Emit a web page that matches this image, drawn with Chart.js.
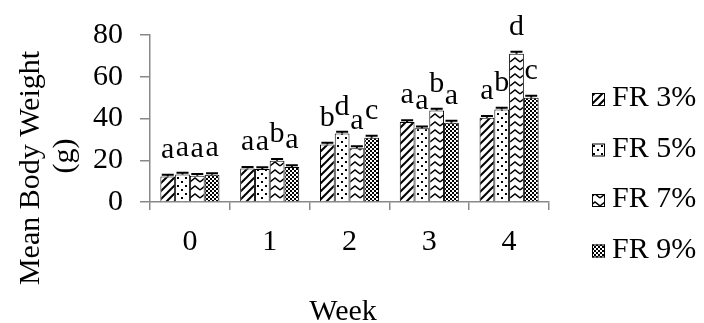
<!DOCTYPE html>
<html>
<head>
<meta charset="utf-8">
<script src="https://cdn.jsdelivr.net/npm/chart.js@4.4.1/dist/chart.umd.min.js"></script>
<style>
    html, body { margin: 0; padding: 0; background: #fff; }
    #wrap { width: 704px; height: 323px; position: relative; }
</style>
</head>
<body>
<div id="wrap"><canvas id="weightChart" width="704" height="323"></canvas></div>
<script>
const weeks = ['0', '1', '2', '3', '4'];
const seriesNames = ['FR 3%', 'FR 5%', 'FR 7%', 'FR 9%'];
const fr3 = [12.2, 16.0, 27.5, 38.3, 40.3];
const fr5 = [13.2, 15.8, 32.8, 35.3, 44.3];
const fr7 = [12.6, 19.8, 25.8, 43.8, 71.0];
const fr9 = [13.0, 16.8, 30.8, 38.0, 50.0];
const fr3Err = [0.8, 0.8, 0.9, 0.9, 0.9];
const fr5Err = [0.8, 0.8, 0.9, 0.9, 0.9];
const fr7Err = [0.8, 0.8, 0.9, 0.9, 1.0];
const fr9Err = [0.8, 0.8, 0.9, 0.9, 0.9];
const fr3Letters = ['a', 'a', 'b', 'a', 'a'];
const fr5Letters = ['a', 'a', 'd', 'a', 'b'];
const fr7Letters = ['a', 'b', 'a', 'b', 'd'];
const fr9Letters = ['a', 'a', 'c', 'a', 'c'];
const yTicks = [0, 20, 40, 60, 80];

const serif = "'Liberation Serif', 'Times New Roman', serif";
const fontPx = 30;

// small tile patterns like the excel fills
const makePattern = (w, h, draw) => {
    const c = document.createElement('canvas');
    c.width = w;
    c.height = h;
    const g = c.getContext('2d');
    g.fillStyle = '#fff';
    g.fillRect(0, 0, w, h);
    draw(g);
    return g.createPattern(c, 'repeat');
};

const stripePattern = makePattern(8, 8, g => {
    g.strokeStyle = '#000';
    g.lineWidth = 2;
    g.beginPath();
    g.moveTo(-2, 10); g.lineTo(10, -2);
    g.moveTo(-6, 6); g.lineTo(6, -6);
    g.moveTo(2, 14); g.lineTo(14, 2);
    g.stroke();
});

const dotPattern = makePattern(8, 8, g => {
    g.fillStyle = '#000';
    g.fillRect(1, 1, 2, 2);
    g.fillRect(5, 5, 2, 2);
});

const wavePattern = makePattern(10, 8, g => {
    g.strokeStyle = '#000';
    g.lineWidth = 1.6;
    g.beginPath();
    g.moveTo(0, 6); g.lineTo(5, 2); g.lineTo(10, 6);
    g.stroke();
});

const checkPattern = makePattern(4, 4, g => {
    g.fillStyle = '#000';
    g.fillRect(0, 0, 2, 2);
    g.fillRect(2, 2, 2, 2);
});

const errorSets = [fr3Err, fr5Err, fr7Err, fr9Err];
const letterSets = [fr3Letters, fr5Letters, fr7Letters, fr9Letters];

const extrasPlugin = {
    id: 'extras',
    afterDatasetsDraw(chart) {
        const ctx = chart.ctx;
        const y = chart.scales.y;
        ctx.save();
        chart.data.datasets.forEach((ds, i) => {
            const meta = chart.getDatasetMeta(i);
            meta.data.forEach((bar, j) => {
                const v = ds.data[j];
                const top = y.getPixelForValue(v + errorSets[i][j]);
                const base = y.getPixelForValue(v);
                ctx.strokeStyle = '#000';
                ctx.lineWidth = 2;
                ctx.beginPath();
                ctx.moveTo(bar.x, base);
                ctx.lineTo(bar.x, top);
                ctx.moveTo(bar.x - 6, top);
                ctx.lineTo(bar.x + 6, top);
                ctx.stroke();
                ctx.fillStyle = '#000';
                ctx.font = fontPx + 'px ' + serif;
                ctx.textAlign = 'center';
                ctx.textBaseline = 'alphabetic';
                ctx.fillText(letterSets[i][j], bar.x, top - 17);
            });
        });
        ctx.restore();
    },
    afterDraw(chart) {
        const ctx = chart.ctx;
        ctx.save();
        ctx.fillStyle = '#000';
        ctx.font = fontPx + 'px ' + serif;
        // x title
        ctx.textAlign = 'center';
        ctx.textBaseline = 'alphabetic';
        ctx.fillText('Week', 343, 320);
        // y title, two lines
        ctx.save();
        ctx.translate(39, 168);
        ctx.rotate(-Math.PI / 2);
        ctx.fillText('Mean Body Weight', 0, 0);
        ctx.restore();
        ctx.save();
        ctx.translate(73, 156);
        ctx.rotate(-Math.PI / 2);
        ctx.fillText('(g)', 0, 0);
        ctx.restore();
        // legend
        chart.data.datasets.forEach((ds, i) => {
            const by = 106 + i * 50.5;
            ctx.fillStyle = ds.backgroundColor;
            ctx.fillRect(592, by - 13, 13, 13);
            ctx.strokeStyle = '#000';
            ctx.lineWidth = 1;
            ctx.strokeRect(592.5, by - 12.5, 12, 12);
            ctx.fillStyle = '#000';
            ctx.textAlign = 'left';
            ctx.fillText(ds.label, 612, by);
        });
        ctx.restore();
    }
};

const patterns = [stripePattern, dotPattern, wavePattern, checkPattern];
const values = [fr3, fr5, fr7, fr9];

new Chart(document.getElementById('weightChart').getContext('2d'), {
    type: 'bar',
    data: {
        labels: weeks,
        datasets: seriesNames.map((name, i) => ({
            label: name,
            data: values[i],
            backgroundColor: patterns[i],
            borderColor: '#000',
            borderWidth: 1,
            categoryPercentage: 0.74,
            barPercentage: 1.0
        }))
    },
    options: {
        responsive: false,
        animation: false,
        events: [],
        layout: {
            padding: { left: 0, right: 155, top: 33, bottom: 0 }
        },
        plugins: {
            legend: { display: false },
            tooltip: { enabled: false }
        },
        scales: {
            x: {
                grid: {
                    display: true,
                    drawOnChartArea: false,
                    drawTicks: true,
                    tickLength: 8,
                    color: '#888',
                    lineWidth: 1.5
                },
                border: { color: '#888', width: 1.5 },
                ticks: {
                    color: '#000',
                    font: { family: serif, size: fontPx },
                    padding: 14
                },
                afterFit: scale => { scale.height = 121; }
            },
            y: {
                min: 0,
                max: 80,
                afterBuildTicks: scale => {
                    scale.ticks = yTicks.map(v => ({ value: v }));
                },
                grid: {
                    display: true,
                    drawOnChartArea: false,
                    drawTicks: true,
                    tickLength: 10,
                    color: '#888',
                    lineWidth: 1.5
                },
                border: { color: '#888', width: 1.5 },
                ticks: {
                    color: '#000',
                    font: { family: serif, size: fontPx },
                    padding: 17
                },
                afterFit: scale => { scale.width = 150; }
            }
        }
    },
    plugins: [extrasPlugin]
});
</script>
</body>
</html>
